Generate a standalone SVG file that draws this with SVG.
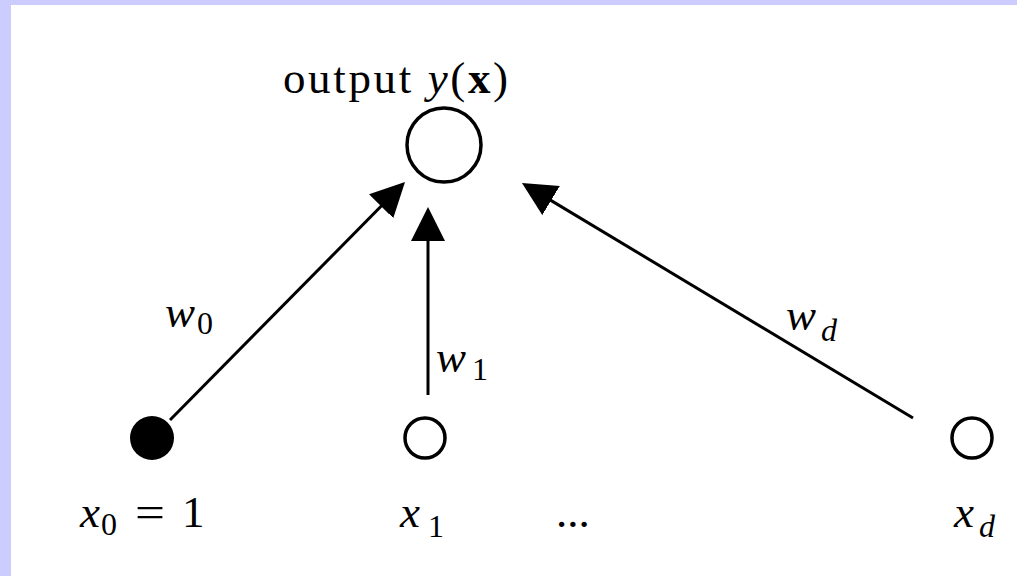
<svg xmlns="http://www.w3.org/2000/svg" width="1017" height="576" viewBox="0 0 1017 576">
<style>
.t{font-family:"Liberation Serif","Times New Roman",serif;font-size:45px;fill:#000}
.i{font-style:italic}
.b{font-weight:bold}
.s{font-size:32px}
.c{fill:#fff;stroke:#000;stroke-width:3.5}
.e{stroke:#000;stroke-width:3;fill:none}
</style>
<defs>
<marker id="ah" markerUnits="userSpaceOnUse" markerWidth="36" markerHeight="36" viewBox="0 0 36 36" refX="28" refY="17" orient="auto">
<path d="M0,0 L34,17 L0,34 z" fill="#000"/>
</marker>
</defs>
<rect x="0" y="0" width="1017" height="576" fill="#fff"/>
<rect x="0" y="0" width="1017" height="5" fill="#ccccff"/>
<rect x="0" y="0" width="11" height="576" fill="#ccccff"/>
<g id="output">
<circle class="c" cx="444" cy="145" r="37"/>
<text class="t" x="283" y="93" textLength="225" lengthAdjust="spacing">output <tspan class="i">y</tspan>(<tspan class="b">x</tspan>)</text>
</g>
<g id="x0">
<circle cx="152" cy="438" r="22" fill="#000"/>
<text class="t" y="527"><tspan class="i" x="80">x</tspan><tspan class="s" x="101" y="535">0</tspan><tspan x="135" y="527" textLength="30" lengthAdjust="spacingAndGlyphs">=</tspan><tspan x="182">1</tspan></text>
</g>
<g id="x1">
<circle class="c" cx="425" cy="438" r="20"/>
<text class="t" y="527"><tspan class="i" x="400">x</tspan><tspan class="s" x="428" y="537">1</tspan></text>
</g>
<g id="dots">
<text class="t" x="556" y="527">...</text>
</g>
<g id="xd">
<circle class="c" cx="972" cy="438" r="20"/>
<text class="t" y="527"><tspan class="i" x="954">x</tspan><tspan class="i s" x="979" y="537">d</tspan></text>
</g>
<g id="connectors">
<line class="e" x1="170" y1="420" x2="400.8" y2="186.3" marker-end="url(#ah)"/>
<line class="e" x1="428" y1="395" x2="428" y2="213" marker-end="url(#ah)"/>
<line class="e" x1="913" y1="418" x2="527.1" y2="186.1" marker-end="url(#ah)"/>
<text class="t" y="327"><tspan class="i" x="165">w</tspan><tspan class="s" x="197" y="334">0</tspan></text>
<text class="t" y="372"><tspan class="i" x="436">w</tspan><tspan class="s" x="472" y="380">1</tspan></text>
<text class="t" y="330"><tspan class="i" x="786">w</tspan><tspan class="i s" x="821" y="341">d</tspan></text>
</g>
</svg>
